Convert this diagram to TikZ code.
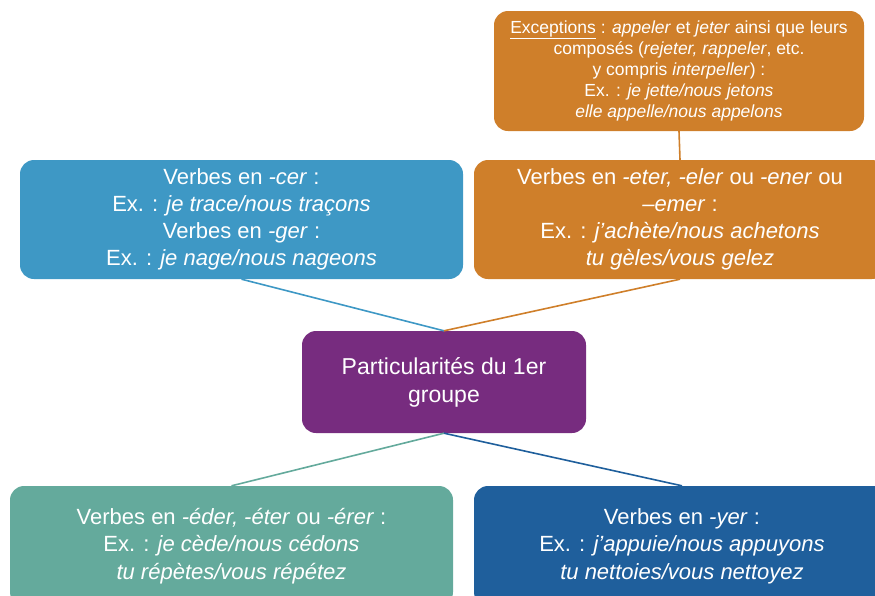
\documentclass[tikz,border=0pt]{standalone}
\usepackage{fontspec}
\setmainfont{Liberation Sans}
\definecolor{cblue}{HTML}{3E98C5}
\definecolor{corange}{HTML}{CF7F2A}
\definecolor{cpurple}{HTML}{772C7F}
\definecolor{cteal}{HTML}{64AA9C}
\definecolor{cdark}{HTML}{1F5F9C}
\begin{document}
\begin{tikzpicture}[x=1pt,y=-1pt,
  box/.style={rounded corners=14pt, text=white, align=center, inner sep=0pt},
  big/.style={font=\fontsize{22}{27}\selectfont},
  bottom/.style={font=\fontsize{22}{27.5}\selectfont},
  link/.style={line width=1.6pt}]
\useasboundingbox (0,0) rectangle (875,595);
\node[box, big, fill=cblue, minimum width=443pt, minimum height=119pt] (cer) at (241.5,219.5)
  {Verbes en \textit{-cer} :\\ Ex. : \textit{je trace/nous traçons}\\ Verbes en \textit{-ger} :\\ Ex. : \textit{je nage/nous nageons}};
\node[box, big, fill=corange, minimum width=412pt, minimum height=119pt] (eter) at (680,219.5)
  {Verbes en \textit{-eter, -eler} ou \textit{-ener} ou\\ \textit{–emer} :\\ Ex. : \textit{j’achète/nous achetons}\\ \textit{tu gèles/vous gelez}};
\node[box, fill=corange, minimum width=370pt, minimum height=120pt, font=\fontsize{17.5}{21}\selectfont] (exc) at (679,71)
  {\underline{Exceptions} : \textit{appeler} et \textit{jeter} ainsi que leurs\\ composés (\textit{rejeter, rappeler}, etc.\\ y compris \textit{interpeller}) :\\ Ex. : \textit{je jette/nous jetons}\\ \textit{elle appelle/nous appelons}};
\node[box, font=\fontsize{23}{28}\selectfont, fill=cpurple, minimum width=284pt, minimum height=102pt] (center) at (444,382)
  {Particularités du 1er\\ groupe};
\node[box, bottom, fill=cteal, minimum width=443pt, minimum height=120pt] (eder) at (231.5,546)
  {Verbes en \textit{-éder, -éter} ou \textit{-érer} :\\ Ex. : \textit{je cède/nous cédons}\\ \textit{tu répètes/vous répétez}};
\node[box, bottom, fill=cdark, minimum width=416pt, minimum height=120pt] (yer) at (682,546)
  {Verbes en \textit{-yer} :\\ Ex. : \textit{j’appuie/nous appuyons}\\ \textit{tu nettoies/vous nettoyez}};
\draw[link, corange] (exc.south) -- (eter.north);
\draw[link, cblue] (cer.south) -- (center.north);
\draw[link, corange] (eter.south) -- (center.north);
\draw[link, cteal] (center.south) -- (eder.north);
\draw[link, cdark] (center.south) -- (yer.north);
\end{tikzpicture}
\end{document}
